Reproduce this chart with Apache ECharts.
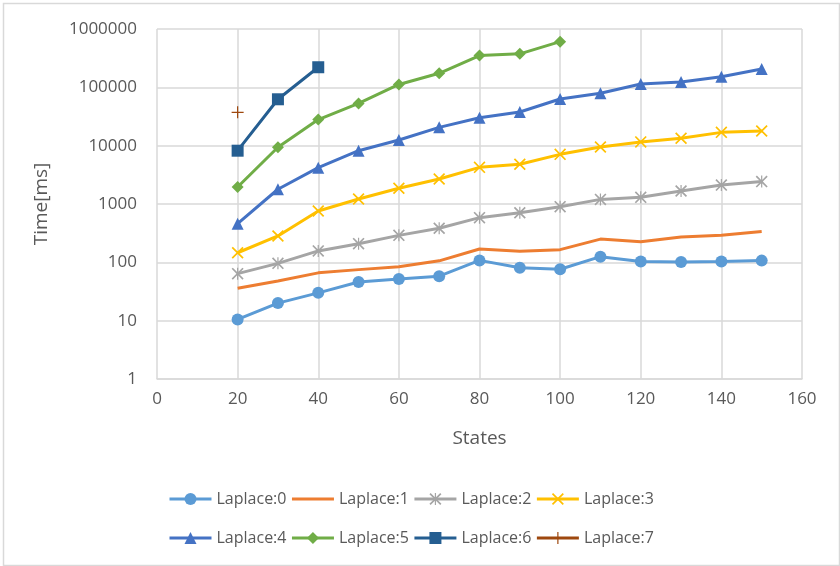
<!DOCTYPE html>
<html>
<head>
<meta charset="utf-8">
<script src="https://cdn.jsdelivr.net/npm/echarts@6/dist/echarts.min.js"></script>
<style>
  html, body { margin: 0; padding: 0; background: #fff; }
  #chart { width: 840px; height: 566px; }
</style>
</head>
<body>
<div id="chart"></div>
<script>
// Number of states (x values)
const states = [20, 30, 40, 50, 60, 70, 80, 90, 100, 110, 120, 130, 140, 150];

// Run time in ms per Laplace level
const laplace0 = [10.5, 20, 30, 46, 52, 58, 108, 81, 76, 125, 103, 101, 103, 107];
const laplace1 = [36, 48, 66, 75, 84, 106, 169, 155, 165, 250, 225, 272, 292, 338];
const laplace2 = [64, 96, 157, 209, 290, 383, 583, 710, 900, 1200, 1300, 1670, 2110, 2420];
const laplace3 = [146, 283, 760, 1220, 1860, 2680, 4250, 4800, 7100, 9500, 11600, 13400, 16900, 17800];
const laplace4 = [460, 1790, 4200, 8200, 12500, 20600, 30000, 37800, 63000, 79000, 114000, 123000, 152000, 206000];
const laplace5 = [1960, 9400, 28000, 53000, 112000, 174000, 350000, 375000, 607000];
const laplace6 = [8200, 62400, 221000];
const laplace7 = [37300];

const seriesNames = ['Laplace:0', 'Laplace:1', 'Laplace:2', 'Laplace:3',
                     'Laplace:4', 'Laplace:5', 'Laplace:6', 'Laplace:7'];
const seriesValues = [laplace0, laplace1, laplace2, laplace3, laplace4, laplace5, laplace6, laplace7];

// Y tick labels (log scale)
const yTicks = ['1', '10', '100', '1000', '10000', '100000', '1000000'];

const colors = ['#5B9BD5', '#ED7D31', '#A5A5A5', '#FFC000', '#4472C4', '#70AD47', '#255E91', '#9E480E'];

// Marker shapes: asterisk, cross and plus are built as filled outlines
const crossPath = 'path://M0,2 L2,0 L10,8 L18,0 L20,2 L12,10 L20,18 L18,20 L10,12 L2,20 L0,18 L8,10 Z';
const starPath = 'path://M0,2 L2,0 L10,8 L18,0 L20,2 L12,10 L20,18 L18,20 L10,12 L2,20 L0,18 L8,10 Z M9,0 L11,0 L11,20 L9,20 Z';
const plusPath = 'path://M9,0 L11,0 L11,9 L20,9 L20,11 L11,11 L11,20 L9,20 L9,11 L0,11 L0,9 L9,9 Z';
const symbols = ['circle', 'none', starPath, crossPath, 'triangle', 'diamond', 'rect', plusPath];
const symbolSizes = [12, 0, 12, 12, 12, 12, 12, 12];

const font = '"Open Sans", sans-serif';
const textColor = '#595959';
const gridColor = '#D9D9D9';

const series = seriesNames.map((name, i) => ({
  name: name,
  type: 'line',
  data: seriesValues[i].map((v, j) => [states[j], v]),
  symbol: symbols[i],
  symbolSize: symbolSizes[i],
  showSymbol: symbols[i] !== 'none',
  color: colors[i],
  lineStyle: { width: 3, color: colors[i] },
  itemStyle: { color: colors[i], borderWidth: 0 },
  emphasis: { disabled: true },
  animation: false
}));

// Legend entries; the marker-less series shows only its line
const legendItems = seriesNames.map((name, i) =>
  symbols[i] === 'none' ? { name: name, itemStyle: { opacity: 0 } } : { name: name });

const legendCommon = {
  left: 163,
  orient: 'horizontal',
  itemWidth: 42,
  itemHeight: 15,
  itemGap: 4,
  lineStyle: { width: 3 },
  textStyle: { fontFamily: font, fontSize: 16, color: textColor, width: 72, padding: [0, 0, 0, 0] }
};

const chart = echarts.init(document.getElementById('chart'), null, { renderer: 'canvas' });
chart.setOption({
  backgroundColor: '#fff',
  animation: false,
  grid: { left: 157, right: 38, top: 29, bottom: 187, containLabel: false },
  xAxis: {
    type: 'value',
    min: 0,
    max: 160,
    interval: 20,
    name: 'States',
    nameLocation: 'middle',
    nameGap: 50,
    nameTextStyle: { fontFamily: font, fontSize: 19, color: textColor },
    axisLine: { show: true, lineStyle: { color: gridColor, width: 1.5 } },
    axisTick: { show: false },
    axisLabel: { fontFamily: font, fontSize: 17, color: textColor, margin: 12 },
    splitLine: { show: true, lineStyle: { color: gridColor, width: 1.5 } }
  },
  yAxis: {
    type: 'log',
    logBase: 10,
    min: 1,
    max: 1000000,
    name: 'Time[ms]',
    nameLocation: 'middle',
    nameGap: 106,
    nameRotate: 90,
    nameTextStyle: { fontFamily: font, fontSize: 19, color: textColor },
    axisLine: { show: false },
    axisTick: { show: false },
    axisLabel: {
      fontFamily: font, fontSize: 17, color: textColor, margin: 20,
      formatter: function (v) {
        const k = Math.round(Math.log10(v));
        return yTicks[k] !== undefined ? yTicks[k] : String(Math.round(v));
      }
    },
    splitLine: { show: true, lineStyle: { color: gridColor, width: 1.5 } }
  },
  legend: [
    Object.assign({}, legendCommon, { top: 486, data: legendItems.slice(0, 4) }),
    Object.assign({}, legendCommon, { top: 525, data: legendItems.slice(4) })
  ],
  graphic: [{
    type: 'rect',
    shape: { x: 3.5, y: 3.5, width: 836, height: 562 },
    style: { fill: 'none', stroke: '#D9D9D9', lineWidth: 1.5 },
    silent: true,
    z: -1
  }],
  series: series
});
</script>
</body>
</html>
